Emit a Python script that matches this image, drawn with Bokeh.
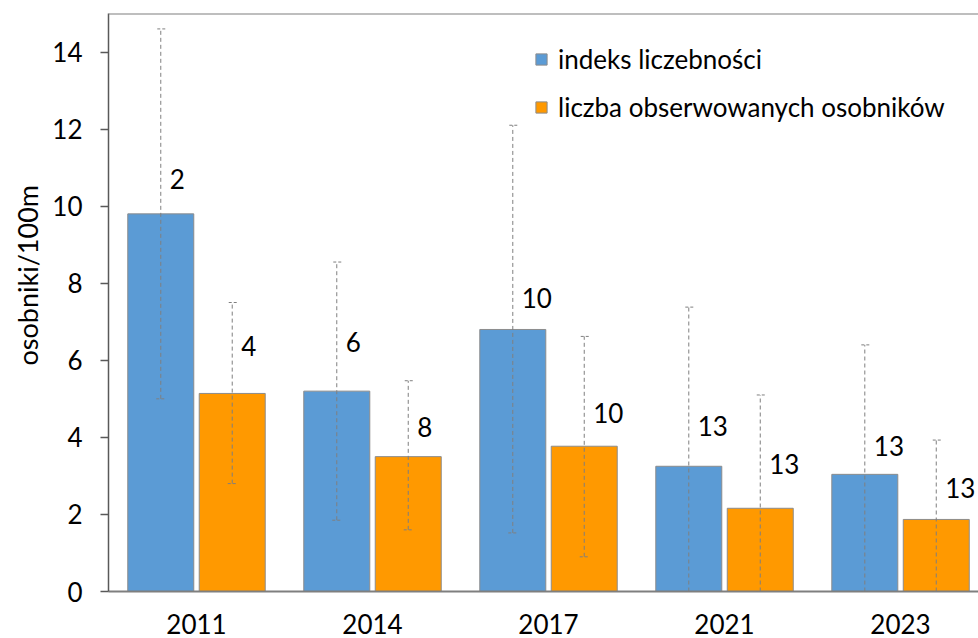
import numpy as np
from bokeh.plotting import figure
from bokeh.models import (ColumnDataSource, Range1d, FixedTicker, Whisker, TeeHead,
                          Span, Legend, LegendItem, Title)
from bokeh.core.properties import value
from bokeh.embed import file_html
from bokeh.resources import INLINE

# ---- data ----
years = ["2011", "2014", "2017", "2021", "2023"]
index_vals = [9.8, 5.2, 6.8, 3.25, 3.04]
index_upper = [14.6, 8.55, 12.1, 7.38, 6.4]
index_lower = [5.0, 1.85, 1.52, 0.0, 0.0]
count_vals = [5.14, 3.5, 3.77, 2.16, 1.87]
count_upper = [7.5, 5.47, 6.62, 5.1, 3.93]
count_lower = [2.8, 1.6, 0.9, 0.0, 0.0]
index_labels = ["2", "6", "10", "13", "13"]
count_labels = ["4", "8", "10", "13", "13"]
index_label_y = [10.70, 6.47, 7.61, 4.29, 3.77]
count_label_y = [6.36, 4.27, 4.62, 3.30, 2.69]
y_ticks = [0, 2, 4, 6, 8, 10, 12, 14]
y_title = "osobniki/100m"

FONT = "Lato"
BLUE = "#5B9BD5"
ORANGE = "#FF9900"
EDGE = "#8C8C8C"

pos = np.arange(len(years))
off = 0.203
bw = 0.375

src_i = ColumnDataSource(dict(x=pos - off, top=index_vals, up=index_upper, lo=index_lower,
                              lab=index_labels, ly=index_label_y))
src_c = ColumnDataSource(dict(x=pos + off, top=count_vals, up=count_upper, lo=count_lower,
                              lab=count_labels, ly=count_label_y))

p = figure(frame_width=870, frame_height=578, output_backend="svg", toolbar_location=None,
           x_range=Range1d(-0.5, 4.443), y_range=Range1d(0, 15),
           min_border_left=108, min_border_right=0, min_border_top=13, min_border_bottom=47)
p.outline_line_color = None
p.xgrid.visible = False
p.ygrid.visible = False
p.background_fill_color = "white"
p.border_fill_color = "white"

r1 = p.vbar(x="x", top="top", width=bw, source=src_i, fill_color=BLUE, line_color=EDGE, line_width=1)
r2 = p.vbar(x="x", top="top", width=bw, source=src_c, fill_color=ORANGE, line_color=EDGE, line_width=1)

for src in (src_i, src_c):
    w = Whisker(base="x", upper="up", lower="lo", source=src, dimension="height",
                level="overlay",
                line_color="#7F7F7F", line_width=1, line_dash="4 3",
                upper_head=TeeHead(size=9, line_color="#7F7F7F", line_width=1, line_dash="3 2"),
                lower_head=TeeHead(size=9, line_color="#7F7F7F", line_width=1, line_dash="3 2"))
    p.add_layout(w)
    p.text(x="x", y="ly", text="lab", source=src, x_offset=9,
           text_font=value(FONT), text_font_size="26px", text_color="#000000",
           text_align="left", text_baseline="middle")

p.add_layout(Span(location=15, dimension="width", line_color="#7F7F7F", line_width=2))

# y-axis title on the left, starting a bit above the frame bottom like the reference
p.add_layout(Title(text=y_title, align="left", offset=226, standoff=12,
                   text_font=FONT, text_font_size="27px", text_font_style="normal",
                   text_color="#000000"), "left")

# axes
p.yaxis.ticker = FixedTicker(ticks=y_ticks)
p.yaxis.major_label_text_font = FONT
p.yaxis.major_label_text_font_size = "26px"
p.yaxis.major_label_text_color = "#000000"
p.yaxis.major_label_standoff = 18
p.yaxis.major_tick_out = 8
p.yaxis.major_tick_in = 0
p.yaxis.minor_tick_out = 0
p.yaxis.minor_tick_in = 0
p.yaxis.axis_line_color = "#595959"
p.yaxis.axis_line_width = 1.5
p.yaxis.major_tick_line_color = "#595959"
p.yaxis.major_tick_line_width = 1.5

p.xaxis.ticker = FixedTicker(ticks=list(pos))
p.xaxis.major_label_overrides = {int(i): y for i, y in zip(pos, years)}
p.xaxis.major_label_text_font = FONT
p.xaxis.major_label_text_font_size = "26px"
p.xaxis.major_label_text_color = "#000000"
p.xaxis.major_label_standoff = 22
p.xaxis.major_tick_out = 0
p.xaxis.major_tick_in = 0
p.xaxis.minor_tick_out = 0
p.xaxis.minor_tick_in = 0
p.xaxis.axis_line_color = "#7F7F7F"
p.xaxis.axis_line_width = 2

legend = Legend(items=[LegendItem(label="indeks liczebności", renderers=[r1]),
                       LegendItem(label="liczba obserwowanych osobników", renderers=[r2])],
                location=(426, 468), orientation="vertical",
                glyph_width=14, glyph_height=14, label_standoff=10, spacing=16,
                padding=0, margin=0, border_line_color=None, background_fill_alpha=0,
                label_text_font=FONT, label_text_font_size="26px", label_text_color="#000000")
p.add_layout(legend)

open("out.html", "w").write(file_html(p, INLINE))
